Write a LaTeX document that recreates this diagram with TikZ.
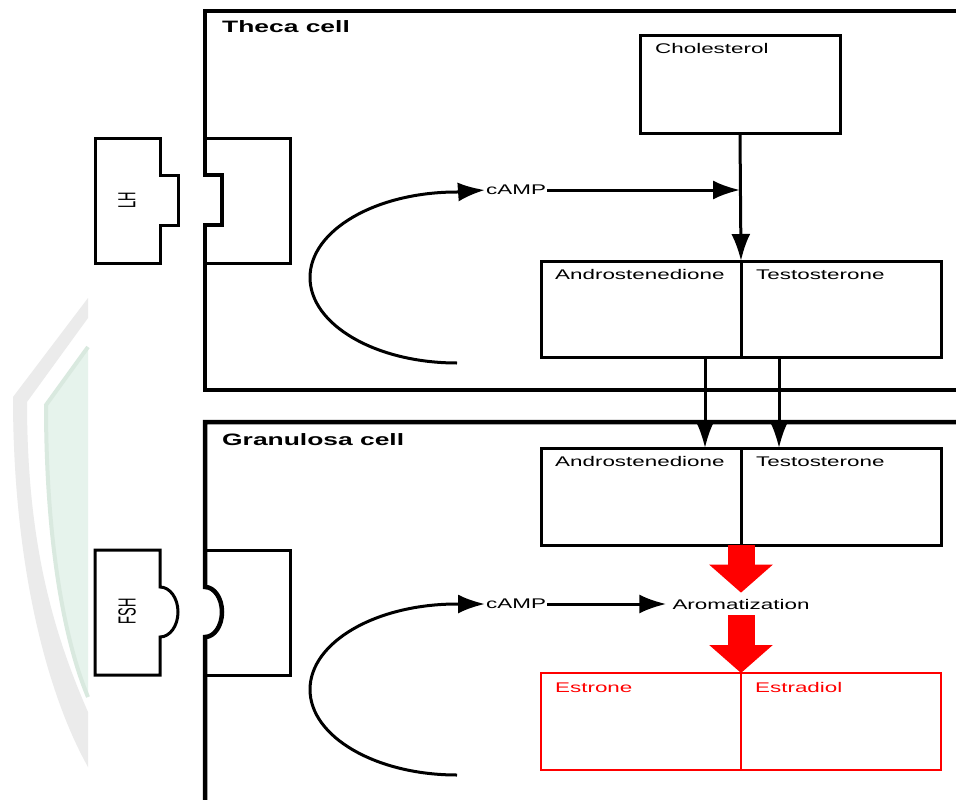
\documentclass[tikz,border=0pt]{standalone}
\usepackage{fontspec}
\setmainfont{Liberation Sans}
\newfontfamily\widefont[FakeStretch=1.6]{Liberation Sans}
\usetikzlibrary{positioning,arrows.meta,calc}
\definecolor{wmgrey}{HTML}{EBEBEB}
\definecolor{wmgreen}{HTML}{E6F3EC}
\definecolor{wmedge}{HTML}{D9E9DF}

\begin{document}
\begin{tikzpicture}[x=1pt,y=-1pt,
cell/.style={line width=4.5pt},
lig/.style={line width=3pt, line join=miter},
box/.style={
    draw,
    line width=3pt,
    minimum width=200pt,
    minimum height=97pt,
    inner sep=0pt,
    outer sep=0pt
},
redbox/.style={box, draw=red, line width=2.2pt},
lbl/.style={font=\widefont\fontsize{14}{16}\selectfont, inner sep=0pt, anchor=base west},
celltitle/.style={font=\widefont\fontsize{16.5}{18}\selectfont\bfseries, inner sep=0pt, anchor=base west},
hormone/.style={font=\fontsize{13}{15}\selectfont, rotate=90, inner sep=0pt},
messenger/.style={font=\widefont\fontsize{14}{16}\selectfont, inner sep=1pt, anchor=west},
flow/.style={line width=3pt, -{Latex[length=27pt, width=19pt]}},
bigflow/.style={draw=red, line width=27pt, -{Triangle[length=28pt, width=62pt]}}
]
\useasboundingbox (0,0) rectangle (956,800);
\fill[white] (0,0) rectangle (956,800);

% watermark
\fill[wmgrey] (88,298) -- (13,397) .. controls (13,560) and (45,690) .. (88,767)
    -- (88,712) .. controls (52,630) and (27,540) .. (27,402) -- (88,318) -- cycle;
\filldraw[fill=wmgreen, draw=wmedge, line width=4pt] (88,347) -- (46,405)
    .. controls (46,540) and (64,640) .. (88,697);

% cell membranes
\draw[cell] (956,11) -- (205,11) -- (205,175) -- (222,175) -- (222,225) -- (205,225) -- (205,390) -- (956,390);
\draw[cell] (956,422) -- (205,422) -- (205,587) arc[start angle=90, end angle=-90, x radius=17pt, y radius=25pt] -- (205,800);

% receptors
\draw[lig] (205,138) -- (290,138) -- (290,263) -- (205,263);
\draw[lig] (205,550) -- (290,550) -- (290,675) -- (205,675);

% ligands
\draw[lig] (160,138) -- (95,138) -- (95,263) -- (160,263) -- (160,225) -- (178,225) -- (178,175) -- (160,175) -- cycle;
\draw[lig] (160,550) -- (95,550) -- (95,675) -- (160,675) -- (160,637)
    arc[start angle=-90, end angle=90, x radius=18pt, y radius=25pt] -- cycle;
\node[hormone] (lh) at (127,200) {\scalebox{1}[1.9]{LH}};
\node[hormone] (fsh) at (127,611) {\scalebox{1}[1.9]{FSH}};

\node[celltitle] (theca) at (222,33) {Theca cell};
\node[celltitle] (granulosa) at (222,445) {Granulosa cell};

% theca cell
\node[box] (chol) at (740,84.5) {};
\node[lbl] (cholT) at ([shift={(15,18)}]chol.north west) {Cholesterol};
\node[box, minimum height=96pt] (andro1) at (641,309) {};
\node[box, minimum height=96pt, right=0pt of andro1] (testo1) {};
\node[lbl] (andro1T) at ([shift={(14,18)}]andro1.north west) {Androstenedione};
\node[lbl] (testo1T) at ([shift={(15,18)}]testo1.north west) {Testosterone};

\node[messenger] (campA) at (485,190) {cAMP};
\coordinate (arcA) at (457,363);
\coordinate (hitA) at (chol.south |- campA);
\draw[flow] (arcA) arc[start angle=-90, end angle=-270, x radius=147pt, y radius=85.5pt] -- (campA.west);
\draw[flow] (campA.east) -- (hitA);
\draw[flow] (chol.south) -- (andro1.north east);

% granulosa cell
\node[box] (andro2) at (641,496.5) {};
\node[box, right=0pt of andro2] (testo2) {};
\node[lbl] (andro2T) at ([shift={(14,18)}]andro2.north west) {Androstenedione};
\node[lbl] (testo2T) at ([shift={(15,18)}]testo2.north west) {Testosterone};

\foreach \dx in {164,238}
\draw[flow] ($(andro1.south west)+(\dx,0)$) -- ($(andro2.north west)+(\dx,0)$);

\node[messenger, inner sep=6pt, anchor=center] (aroma) at (741,604) {Aromatization};
\node[messenger] (campB) at (485,604) {cAMP};
\coordinate (arcB) at (457,775);
\draw[flow] (arcB) arc[start angle=-90, end angle=-270, x radius=147pt, y radius=85.5pt] -- (campB.west);
\draw[flow] (campB.east) -- (aroma.west);

\node[redbox] (estrone) at (641,721.5) {};
\node[redbox, right=0pt of estrone] (estradiol) {};
\node[lbl, text=red] (estroneT) at ([shift={(14,19)}]estrone.north west) {Estrone};
\node[lbl, text=red] (estradiolT) at ([shift={(14,19)}]estradiol.north west) {Estradiol};

\draw[bigflow] (andro2.south east) -- (aroma.north);
\draw[bigflow] (aroma.south) -- (estrone.north east);
\end{tikzpicture}
\end{document}
